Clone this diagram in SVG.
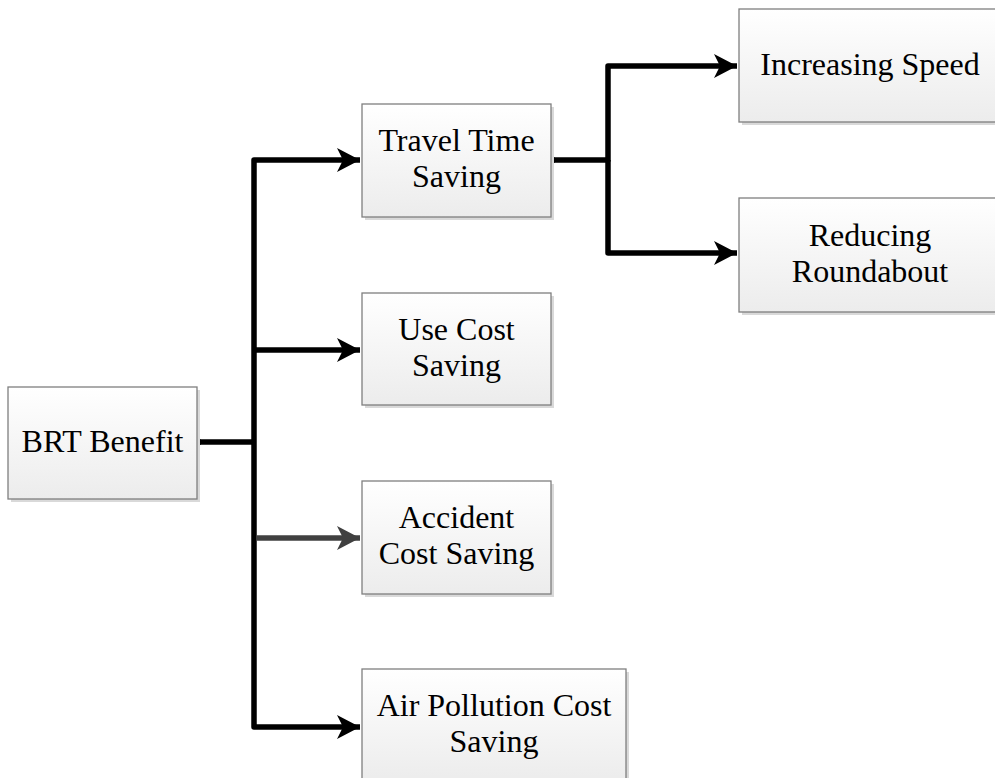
<svg xmlns="http://www.w3.org/2000/svg" width="995" height="778" viewBox="0 0 995 778">
<defs>
<linearGradient id="g" x1="0" y1="0" x2="0" y2="1">
<stop offset="0" stop-color="#ffffff"/>
<stop offset="1" stop-color="#ececec"/>
</linearGradient>
<marker id="ah" markerUnits="userSpaceOnUse" markerWidth="24" markerHeight="26" refX="23" refY="12" orient="auto">
<path d="M0,0 L23,12 L0,24 L6,12 Z" fill="#000"/>
</marker>
<marker id="ahg" markerUnits="userSpaceOnUse" markerWidth="24" markerHeight="26" refX="23" refY="12" orient="auto">
<path d="M0,0 L23,12 L0,24 L6,12 Z" fill="#404040"/>
</marker>
</defs>
<style>
.box{fill:url(#g);stroke:#7f7f7f;stroke-width:1.3}
.sh{fill:#d9d9d9}
.t{font-family:"Liberation Serif","Times New Roman",serif;font-size:32px;fill:#000;text-anchor:middle}
.c{fill:none;stroke:#000;stroke-width:5.5;stroke-linejoin:round}
.cg{fill:none;stroke:#404040;stroke-width:5.5}
.d{fill:#000}
</style>
<rect width="995" height="778" fill="#fff"/>
<g id="connectors">
<circle class="d" cx="198" cy="442" r="3.5"/>
<polyline class="c" points="198,442 254,442"/>
<polyline class="c" points="254,442 254,160 360,160" marker-end="url(#ah)"/>
<polyline class="c" points="254,350 360,350" marker-end="url(#ah)"/>
<polyline class="cg" points="257,538 360,538" marker-end="url(#ahg)"/>
<polyline class="c" points="254,442 254,727 360,727" marker-end="url(#ah)"/>
<circle class="d" cx="552" cy="160" r="3.5"/>
<polyline class="c" points="552,160 608,160 608,66 737,66" marker-end="url(#ah)"/>
<polyline class="c" points="608,160 608,253 737,253" marker-end="url(#ah)"/>
</g>
<g id="brt">
<rect class="sh" x="11" y="390" width="189" height="112"/>
<rect class="box" x="8" y="387" width="189" height="112"/>
<text class="t" x="102.5" y="452">BRT Benefit</text>
</g>
<g id="travel">
<rect class="sh" x="365" y="107" width="189" height="113"/>
<rect class="box" x="362" y="104" width="189" height="113"/>
<text class="t" x="456.5" y="151">Travel Time</text>
<text class="t" x="456.5" y="187">Saving</text>
</g>
<g id="usecost">
<rect class="sh" x="365" y="296" width="189" height="112"/>
<rect class="box" x="362" y="293" width="189" height="112"/>
<text class="t" x="456.5" y="339.5">Use Cost</text>
<text class="t" x="456.5" y="375.5">Saving</text>
</g>
<g id="accident">
<rect class="sh" x="365" y="484" width="189" height="113"/>
<rect class="box" x="362" y="481" width="189" height="113"/>
<text class="t" x="456.5" y="528">Accident</text>
<text class="t" x="456.5" y="564">Cost Saving</text>
</g>
<g id="air">
<rect class="sh" x="365" y="672" width="264" height="113"/>
<rect class="box" x="362" y="669" width="264" height="113"/>
<text class="t" x="494" y="716">Air Pollution Cost</text>
<text class="t" x="494" y="752">Saving</text>
</g>
<g id="speed">
<rect class="sh" x="742" y="12" width="262" height="113"/>
<rect class="box" x="739" y="9" width="262" height="113"/>
<text class="t" x="870" y="75">Increasing Speed</text>
</g>
<g id="roundabout">
<rect class="sh" x="742" y="201" width="262" height="114"/>
<rect class="box" x="739" y="198" width="262" height="114"/>
<text class="t" x="870" y="246">Reducing</text>
<text class="t" x="870" y="282">Roundabout</text>
</g>
</svg>
